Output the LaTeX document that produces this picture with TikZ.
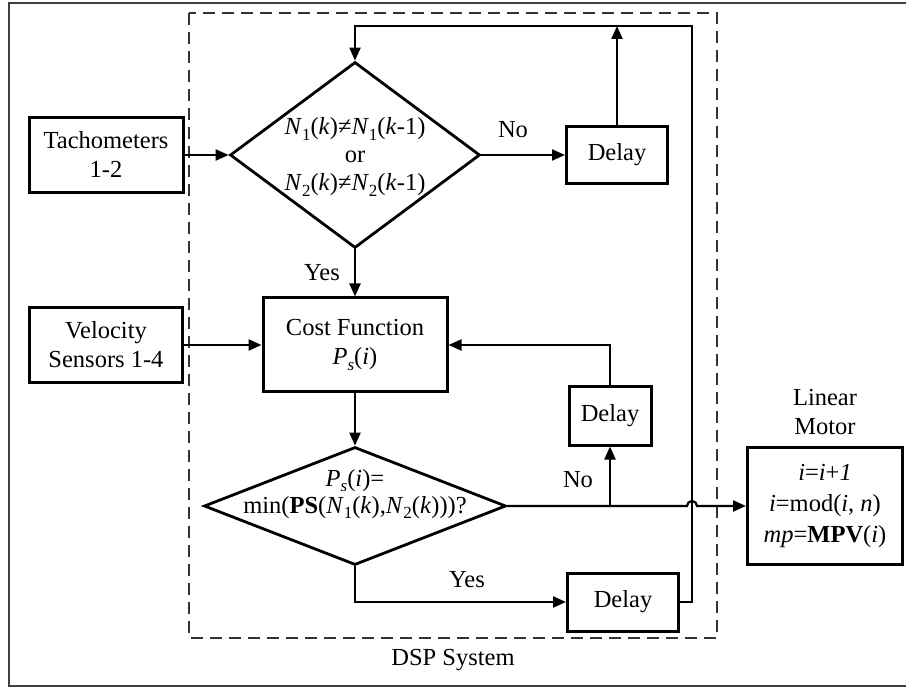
\documentclass[tikz,border=0pt]{standalone}
\usepackage{fontspec}
\setmainfont{Liberation Serif}
\usetikzlibrary{arrows.meta,shapes.geometric}
\newcommand\lsub[1]{\raisebox{-0.22em}{\fontsize{17}{17}\selectfont #1}}
\begin{document}
\begin{tikzpicture}[x=1pt,y=-1pt,
  font=\fontsize{24.5}{29}\selectfont,
  box/.style={draw, line width=3pt, inner sep=0pt, align=center},
  dia/.style={draw, diamond, line width=2.8pt, inner sep=0pt},
  lbl/.style={inner sep=0pt, align=center},
  conn/.style={line width=2.2pt},
  arr/.style={conn, -{Triangle[length=13pt,width=11pt]}}]
\useasboundingbox (0,0) rectangle (906,687);
\draw[line width=2pt, black!75] (906,3) -- (9,3) -- (9,686) -- (906,686);
\draw[line width=2pt, dash pattern=on 12pt off 7pt, black!80] (189,13) rectangle (717,638);

\node[box, minimum width=154pt, minimum height=75pt] (tach) at (106,155) {Tachometers\\1-2};
\node[box, minimum width=153pt, minimum height=75pt] (vel) at (106,345) {Velocity\\Sensors 1-4};
\node[dia, minimum width=250pt, minimum height=186pt] (d1) at (355,155) {};
\node[lbl, font=\fontsize{24.5}{28}\selectfont] (d1t) at (355,157) {\textit{N}\lsub{1}(\textit{k})≠\textit{N}\lsub{1}(\textit{k}-1)\\or\\\textit{N}\lsub{2}(\textit{k})≠\textit{N}\lsub{2}(\textit{k}-1)};
\node[box, minimum width=184pt, minimum height=94pt] (cost) at (355,345) {Cost Function\\\textit{P\lsub{s}}(\textit{i})};
\node[dia, minimum width=302pt, minimum height=118pt] (d2) at (355,506) {};
\node[lbl, font=\fontsize{24.5}{27}\selectfont] (d2t) at (355,494) {\textit{P\lsub{s}}(\textit{i})=\\min(\textbf{PS}(\textit{N}\lsub{1}(\textit{k}),\textit{N}\lsub{2}(\textit{k})))?};
\node[box, minimum width=101pt, minimum height=57pt] (del1) at (617,155) {Delay};
\node[box, minimum width=82pt, minimum height=58pt] (del2) at (610,416) {Delay};
\node[box, minimum width=111pt, minimum height=58pt] (del3) at (623,602) {Delay};
\node[box, minimum width=155pt, minimum height=117pt, font=\fontsize{24.5}{31}\selectfont] (motor) at (825,506) {\textit{i}=\textit{i}+\textit{1}\\\textit{i}=mod(\textit{i}, \textit{n})\\\textit{mp}=\textbf{MPV}(\textit{i})};
\node[lbl] (motl) at (825,412) {Linear\\Motor};
\node[lbl] (dsp) at (453,660) {DSP System};
\node[lbl] (no1) at (513,130) {No};
\node[lbl] (yes1) at (322,273) {Yes};
\node[lbl] (no2) at (578,480) {No};
\node[lbl] (yes2) at (467,580) {Yes};

\coordinate (rb) at (692,602);
\coordinate (rt) at (692,26);
\coordinate (lt) at (355,26);
\coordinate (jmp) at (687,506);
\coordinate (br) at (del2.south |- d2.east);
\coordinate (mt) at (del1.north |- rt);

\draw[arr] (tach.east) -- (d1.west);
\draw[arr] (vel.east) -- (cost.west);
\draw[arr] (d1.east) -- (del1.west);
\draw[arr] (d1.south) -- (cost.north);
\draw[arr] (cost.south) -- (d2.north);
\draw[arr] (del2.north) |- (cost.east);
\draw[arr] (br) -- (del2.south);
\draw[arr] (d2.east) -- (jmp) arc[start angle=180, end angle=360, radius=5] -- (motor.west);
\draw[arr] (d2.south) |- (del3.west);
\draw[arr] (del3.east) -- (rb) -- (rt) -- (lt) -- (d1.north);
\draw[arr] (del1.north) -- (mt);
\end{tikzpicture}
\end{document}
